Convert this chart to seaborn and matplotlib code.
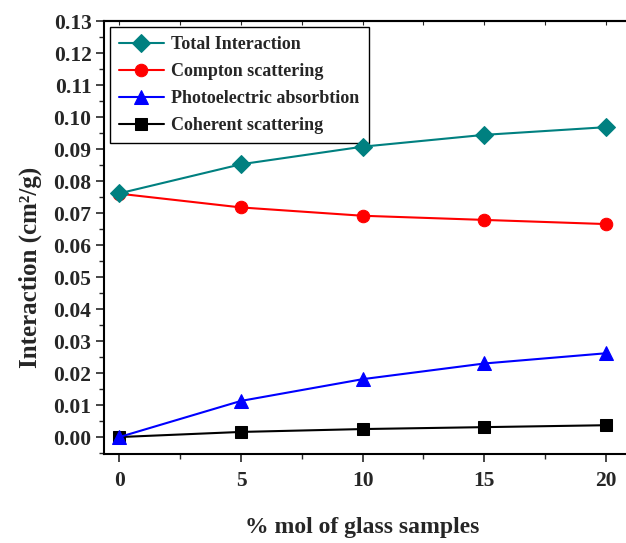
import matplotlib
matplotlib.use("Agg")
import matplotlib.pyplot as plt
from matplotlib.ticker import MultipleLocator, FormatStrFormatter
import seaborn as sns
import pandas as pd

# % mol of glass samples
mol_percent = [0, 5, 10, 15, 20]

# Mass attenuation contributions (cm^2/g)
total_interaction = [0.0762, 0.0853, 0.0908, 0.0945, 0.0969]
compton_scattering = [0.0761, 0.0718, 0.0692, 0.0679, 0.0666]
photoelectric_absorption = [0.0000, 0.0113, 0.0181, 0.0230, 0.0262]
coherent_scattering = [0.0000, 0.0016, 0.0025, 0.0031, 0.0037]

series_names = ["Total Interaction", "Compton scattering",
                "Photoelectric absorbtion", "Coherent scattering"]
series_values = [total_interaction, compton_scattering,
                 photoelectric_absorption, coherent_scattering]

sns.set_style("ticks")
plt.rcParams["font.family"] = ["Liberation Serif", "DejaVu Serif"]
plt.rcParams["font.weight"] = "bold"

styles = {
    "Total Interaction": dict(color="#008080", marker="D", markersize=9, z=6),
    "Compton scattering": dict(color="#ff0000", marker="o", markersize=9, z=5),
    "Photoelectric absorbtion": dict(color="#0000ff", marker="^", markersize=10, z=4),
    "Coherent scattering": dict(color="#000000", marker="s", markersize=8, z=3),
}

W, H = 626, 543
fig = plt.figure(figsize=(W / 100, H / 100), dpi=100)
ax = fig.add_axes([104 / W, (H - 454) / H, (640 - 104) / W, (454 - 21) / H])

for name, vals in zip(series_names, series_values):
    df = pd.DataFrame({"x": mol_percent, "y": vals})
    st = styles[name]
    sns.lineplot(data=df, x="x", y="y", ax=ax, color=st["color"],
                 marker=st["marker"], markersize=st["markersize"],
                 markeredgecolor=st["color"], linewidth=1.5, label=name,
                 zorder=st["z"])

ax.set_xlim(-0.63, 21.4)
ax.set_ylim(-0.0053, 0.1301)

ax.xaxis.set_major_locator(MultipleLocator(5))
ax.xaxis.set_minor_locator(MultipleLocator(2.5))
ax.yaxis.set_major_locator(MultipleLocator(0.01))
ax.yaxis.set_minor_locator(MultipleLocator(0.005))
ax.yaxis.set_major_formatter(FormatStrFormatter("%.2f"))

ax.tick_params(axis="both", which="major", direction="out", length=6, width=1.2,
               labelsize=15.5)
ax.tick_params(axis="y", which="major", pad=3)
ax.tick_params(axis="x", which="major", pad=6)
ax.tick_params(axis="both", which="minor", direction="out", length=3.5, width=1.0)
for lab in ax.get_xticklabels() + ax.get_yticklabels():
    lab.set_fontweight("bold")

# small inward ticks along the top frame
top = ax.secondary_xaxis("top")
top.xaxis.set_major_locator(MultipleLocator(2.5))
top.tick_params(direction="in", length=3, width=0.8, labeltop=False)
top.spines["top"].set_linewidth(1.5)

for sp in ax.spines.values():
    sp.set_linewidth(1.5)
    sp.set_color("black")

ax.set_xlabel("")
ax.set_ylabel("")
fig.text(362 / W, 1 - 527 / H, "% mol of glass samples", fontsize=17,
         fontweight="bold", ha="center", va="center")
fig.text(30 / W, 1 - 267 / H, "Interaction (cm²/g)", fontsize=18,
         fontweight="bold", ha="center", va="center", rotation=90)

leg = ax.legend(loc="upper left", bbox_to_anchor=(0.011, 0.986),
                frameon=True, fancybox=False, edgecolor="black", framealpha=1,
                handlelength=2.5, borderpad=0.5, labelspacing=0.55,
                handletextpad=0.4, borderaxespad=0.0,
                prop={"weight": "bold", "size": 13})
leg.get_frame().set_linewidth(1.0)

fig.savefig("out.png", dpi=100)
